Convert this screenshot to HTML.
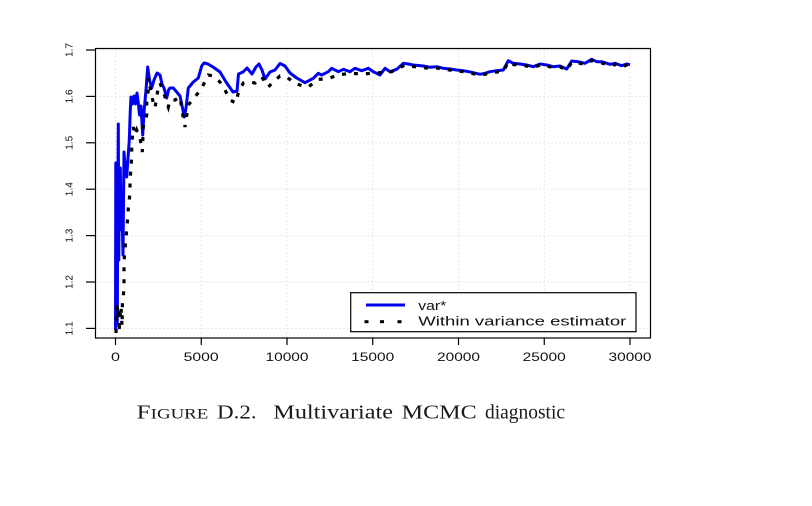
<!DOCTYPE html>
<html>
<head>
<meta charset="utf-8">
<style>
  html, body { margin: 0; padding: 0; background: #ffffff; }
  svg { display: block; }
  .ax { font-family: "Liberation Sans", Arial, sans-serif; fill: #111; }
  .cap { font-family: "Liberation Serif", "Times New Roman", serif; fill: #1a1a1a; }
</style>
</head>
<body>
<svg width="812" height="506" viewBox="0 0 812 506" xmlns="http://www.w3.org/2000/svg">
  <rect x="0" y="0" width="812" height="506" fill="#ffffff"/>

  <!-- grid -->
  <g stroke="#cfcfcf" stroke-width="1" stroke-dasharray="1 3" fill="none">
    <line x1="115.5" y1="48.5" x2="115.5" y2="338"/>
    <line x1="201.25" y1="48.5" x2="201.25" y2="338"/>
    <line x1="287" y1="48.5" x2="287" y2="338"/>
    <line x1="372.75" y1="48.5" x2="372.75" y2="338"/>
    <line x1="458.5" y1="48.5" x2="458.5" y2="338"/>
    <line x1="544.25" y1="48.5" x2="544.25" y2="338"/>
    <line x1="630" y1="48.5" x2="630" y2="338"/>
    <line x1="95.5" y1="50" x2="650.5" y2="50"/>
    <line x1="95.5" y1="96.4" x2="650.5" y2="96.4"/>
    <line x1="95.5" y1="142.8" x2="650.5" y2="142.8"/>
    <line x1="95.5" y1="189.2" x2="650.5" y2="189.2"/>
    <line x1="95.5" y1="235.6" x2="650.5" y2="235.6"/>
    <line x1="95.5" y1="282" x2="650.5" y2="282"/>
    <line x1="95.5" y1="328.4" x2="650.5" y2="328.4"/>
  </g>

  <!-- blue series var* -->
  <polyline fill="none" stroke="#0000f0" stroke-width="3" stroke-linejoin="round" points="
    115.5,330 115.8,163 116.3,300 116.8,170 117.3,322 117.8,200 118.3,124 118.8,260 119.3,175 119.8,230 120.3,168
    121,215 121.7,200 123,255 124,152 125.5,172 126.7,177 128,158 129.3,140 130.3,110 131,97 132.5,104
    134,96 135.5,104 137,93 138.5,105 139.5,115 141,106 142.7,135 144,112 146,90 147.7,67 149.5,80
    151.7,88 154,80 157,73 160,75 162,84 164,88 166.7,98 168.5,90 170,88 173.3,88 176.7,92 180,96
    182.5,108 184.3,117 186,108 188.3,88 193.3,82 198.3,78 201.7,66 204,63 208,64 213,67 220,72
    226,82 233,92 237,91 238.5,74 243,72 247,68 252,74 256,67 259,64 262,70 265,79 270,72 275,70
    280,63.5 285,66 290,73 296.7,78 305,82.7 313.3,78.3 318.3,73.3 321.7,75 328.3,71.7 331.7,68.3
    338.3,71.7 343.3,69.3 350,71.7 355,68.3 361.7,70.7 368.3,68.3 373.3,71.7 380,75 385,68.3 390,71.7
    396.7,69.3 403.3,63.3 408.3,64 413.3,65 423.3,66 430,67.3 436.7,66.7 443.3,68.3 450,69 456.7,70
    463.3,70.7 471.7,72.3 480,74.3 485,73.3 490,71.7 496.7,70.7 503.3,70 508.3,60.7 513.3,63.3 520,64
    526.7,65 533.3,66.7 540,64 546.7,65 553.3,66.7 560,66 566.7,69 571.7,61 578.3,61.7 585,63.3
    591.7,59.3 596.7,61.7 601.7,61.7 610,64.3 615,63.3 621.7,65.7 626.7,64 630,64.7"/>

  <!-- black dotted series -->
  <polyline fill="none" stroke="#000" stroke-width="3.2" stroke-dasharray="4 8" points="
    116,333 117,302 117.8,318 118.3,308 119,332 120,318 121,307 122,326 122.5,300 123.3,297 124,285
    124,262 125.7,240 126.7,230 127.7,218 128.3,208 129,202 130,192 130,180 131,168 131.7,157 131.7,145
    133.3,127 135,135 136.7,130 140,138 142.3,152 143.3,127 146.7,115 146.7,102 148.3,90 148.3,78
    150,87 153.3,103 155,108 158.3,87 160,83 163.3,92 168.3,107 170,100 175,100 180,97 183.3,118
    185,127 188.3,105 195,97 201.7,88 208.3,75 213.3,76 220,82 225,90 230,100 235.7,103 238.3,93
    243.3,83 250,82 255,83 261.7,77 268.3,87 273.3,82 280,76 286.7,77 295,83.5 300,85 308.3,87
    318.3,79.3 326.7,79 338.3,75 350,73.3 363.3,74 375,73 391.7,71.7 405,65
    408.3,65.5 413.3,66.5 423.3,67.5 430,68.5 436.7,68 443.3,69.5 450,70 456.7,71 463.3,71.7 471.7,73.3
    480,75.3 485,74.3 490,73 496.7,72 503.3,71.5 508.3,62 513.3,64.5 520,65 526.7,66 533.3,67.7 540,65
    546.7,66 553.3,67.7 560,67 566.7,70 571.7,62.5 578.3,63 585,64.5 591.7,60.5 596.7,62.5 601.7,63
    610,65.5 615,64.5 621.7,67 626.7,65 630,65.5"/>

  <!-- plot box -->
  <rect x="95.5" y="48.5" width="555" height="289.5" fill="none" stroke="#000" stroke-width="1.2"/>

  <!-- y ticks -->
  <g stroke="#000" stroke-width="1.2">
    <line x1="86" y1="50" x2="95.5" y2="50"/>
    <line x1="86" y1="96.4" x2="95.5" y2="96.4"/>
    <line x1="86" y1="142.8" x2="95.5" y2="142.8"/>
    <line x1="86" y1="189.2" x2="95.5" y2="189.2"/>
    <line x1="86" y1="235.6" x2="95.5" y2="235.6"/>
    <line x1="86" y1="282" x2="95.5" y2="282"/>
    <line x1="86" y1="328.4" x2="95.5" y2="328.4"/>
    <!-- x ticks -->
    <line x1="115.5" y1="338" x2="115.5" y2="345"/>
    <line x1="201.25" y1="338" x2="201.25" y2="345"/>
    <line x1="287" y1="338" x2="287" y2="345"/>
    <line x1="372.75" y1="338" x2="372.75" y2="345"/>
    <line x1="458.5" y1="338" x2="458.5" y2="345"/>
    <line x1="544.25" y1="338" x2="544.25" y2="345"/>
    <line x1="630" y1="338" x2="630" y2="345"/>
  </g>

  <!-- y labels (rotated) -->
  <g class="ax" font-size="10.5" text-anchor="middle">
    <text transform="translate(72.5,50) rotate(-90)" textLength="14" lengthAdjust="spacingAndGlyphs">1.7</text>
    <text transform="translate(72.5,96.4) rotate(-90)" textLength="14" lengthAdjust="spacingAndGlyphs">1.6</text>
    <text transform="translate(72.5,142.8) rotate(-90)" textLength="14" lengthAdjust="spacingAndGlyphs">1.5</text>
    <text transform="translate(72.5,189.2) rotate(-90)" textLength="14" lengthAdjust="spacingAndGlyphs">1.4</text>
    <text transform="translate(72.5,235.6) rotate(-90)" textLength="14" lengthAdjust="spacingAndGlyphs">1.3</text>
    <text transform="translate(72.5,282) rotate(-90)" textLength="14" lengthAdjust="spacingAndGlyphs">1.2</text>
    <text transform="translate(72.5,328.4) rotate(-90)" textLength="14" lengthAdjust="spacingAndGlyphs">1.1</text>
  </g>

  <!-- x labels -->
  <g class="ax" font-size="11.5">
    <text x="111" y="361" textLength="9" lengthAdjust="spacingAndGlyphs">0</text>
    <text x="183.7" y="361" textLength="35" lengthAdjust="spacingAndGlyphs">5000</text>
    <text x="265.5" y="361" textLength="43" lengthAdjust="spacingAndGlyphs">10000</text>
    <text x="351.2" y="361" textLength="43" lengthAdjust="spacingAndGlyphs">15000</text>
    <text x="437" y="361" textLength="43" lengthAdjust="spacingAndGlyphs">20000</text>
    <text x="522.7" y="361" textLength="43" lengthAdjust="spacingAndGlyphs">25000</text>
    <text x="608.5" y="361" textLength="43" lengthAdjust="spacingAndGlyphs">30000</text>
  </g>

  <!-- legend -->
  <rect x="350.7" y="292.7" width="285.3" height="39" fill="#fff" stroke="#000" stroke-width="1.2"/>
  <line x1="366" y1="305" x2="405" y2="305" stroke="#0000f0" stroke-width="3"/>
  <g fill="#000">
    <rect x="364.5" y="320.2" width="4" height="3"/>
    <rect x="380" y="320.2" width="4" height="3"/>
    <rect x="397.5" y="320.2" width="4" height="3"/>
  </g>
  <g class="ax" font-size="12.5">
    <text x="418.3" y="310" textLength="28" lengthAdjust="spacingAndGlyphs">var*</text>
    <text x="418.3" y="325.5" textLength="208" lengthAdjust="spacingAndGlyphs">Within variance estimator</text>
  </g>

  <!-- caption -->
  <g class="cap" font-size="20">
    <text x="136.7" y="418.3" textLength="71.6" lengthAdjust="spacingAndGlyphs">F<tspan font-size="15">IGURE</tspan></text>
    <text x="217" y="418.3" textLength="39.7" lengthAdjust="spacingAndGlyphs">D.2.</text>
    <text x="273.3" y="418.3" textLength="119.7" lengthAdjust="spacingAndGlyphs">Multivariate</text>
    <text x="401.7" y="418.3" textLength="75" lengthAdjust="spacingAndGlyphs">MCMC</text>
    <text x="485" y="418.3" textLength="80" lengthAdjust="spacingAndGlyphs">diagnostic</text>
  </g>
</svg>
</body>
</html>
